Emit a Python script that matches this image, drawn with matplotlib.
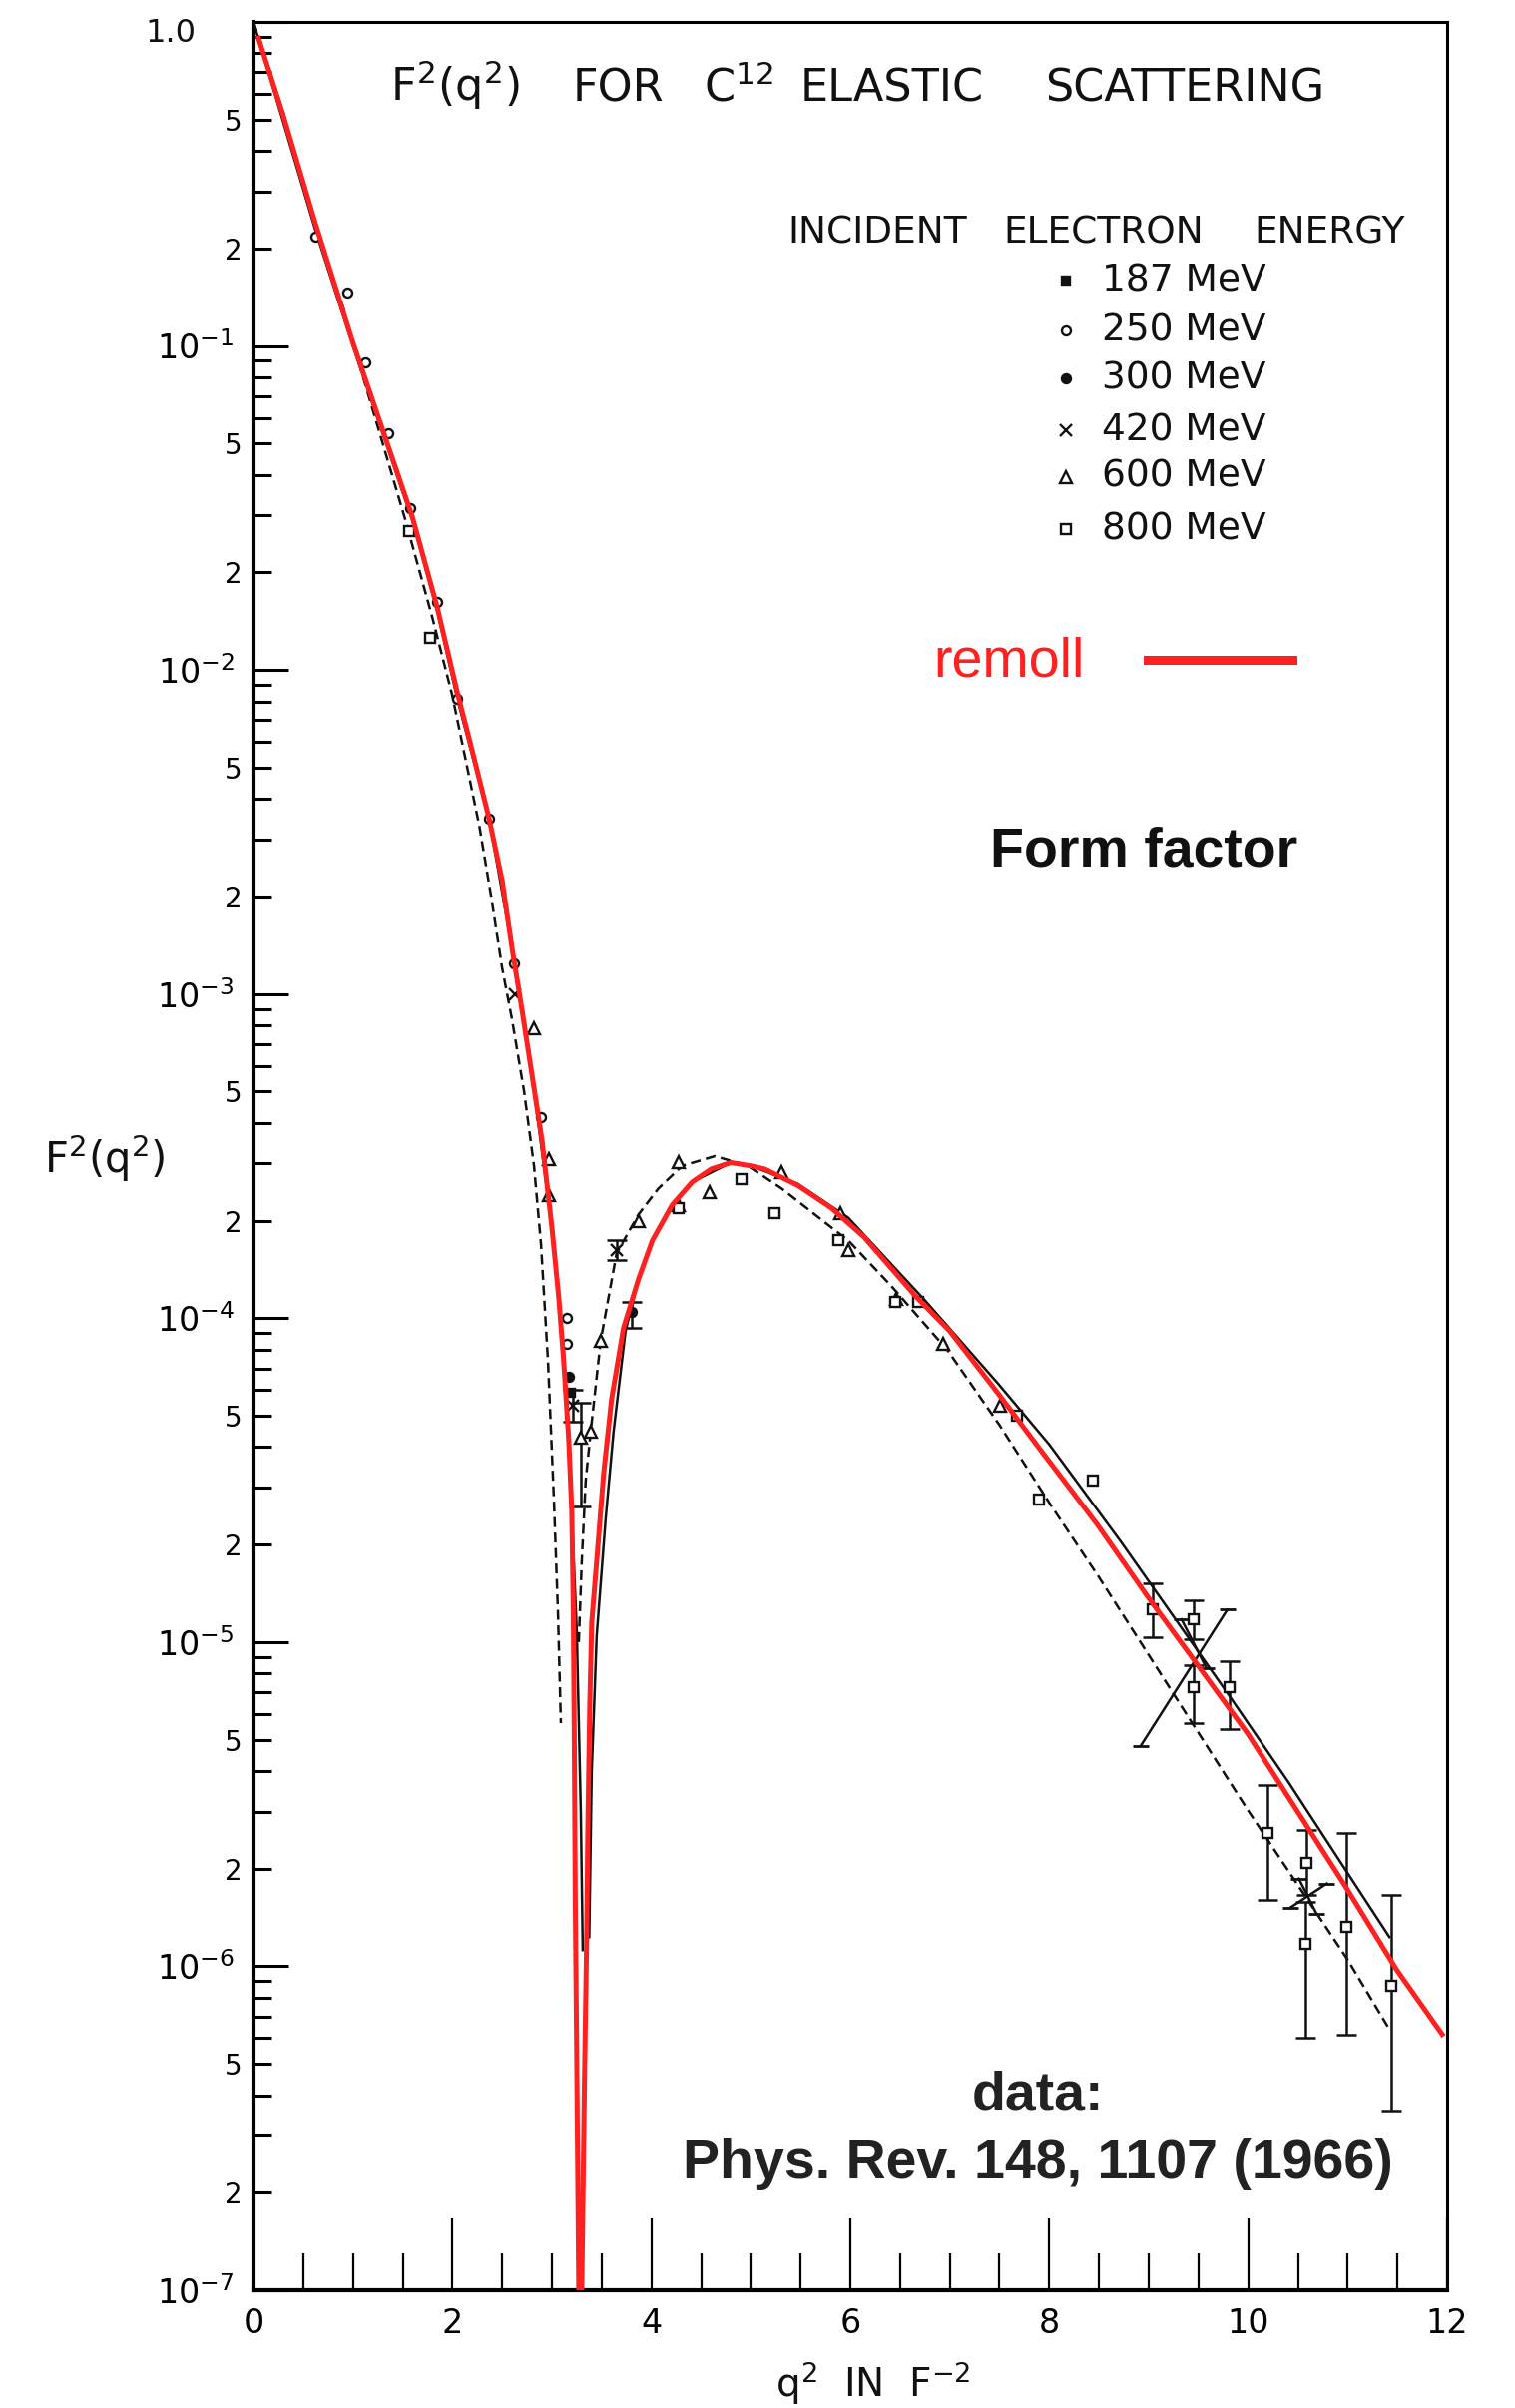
import numpy as np
import matplotlib
matplotlib.use("Agg")
import matplotlib.pyplot as plt
from matplotlib.lines import Line2D
from matplotlib.ticker import FixedLocator, FixedFormatter

# ---------------------------------------------------------------------------
# C12 elastic form factor, values given as log10(F^2) versus q^2 (fm^-2)
# ---------------------------------------------------------------------------

# remoll calculation (red)
remoll_q2 = [0.05, 0.30, 0.62, 1.00, 1.30, 1.60, 1.85, 2.05, 2.20, 2.37, 2.50,
             2.60, 2.70, 2.80, 2.90, 3.00, 3.07, 3.12, 3.17, 3.20, 3.215, 3.225,
             3.235, 3.25, 3.27, 3.285, 3.30, 3.33, 3.35, 3.36, 3.38, 3.40, 3.45,
             3.52, 3.60, 3.72, 3.87, 4.01, 4.21, 4.41, 4.60, 4.80, 5.00, 5.14,
             5.47, 5.81, 6.14, 6.48, 6.65, 7.00, 7.48, 7.92, 8.49, 8.99, 9.49,
             9.99, 10.49, 10.99, 11.49, 11.95]
remoll_lg = [-0.05, -0.29, -0.62, -0.99, -1.26, -1.53, -1.81, -2.07, -2.25, -2.46,
             -2.65, -2.86, -3.05, -3.25, -3.45, -3.72, -3.94, -4.14, -4.38, -4.60,
             -4.90, -5.30, -5.80, -6.30, -7.00, -9.00, -7.00, -6.30, -5.90, -5.60,
             -5.20, -4.94, -4.75, -4.48, -4.25, -4.03, -3.88, -3.76, -3.65, -3.58,
             -3.54, -3.52, -3.53, -3.54, -3.59, -3.66, -3.75, -3.87, -3.93, -4.04,
             -4.23, -4.41, -4.64, -4.86, -5.07, -5.28, -5.52, -5.76, -6.01, -6.21]

# solid theory curve (NaN separates the two branches around the minimum)
theory_q2 = [0.00, 0.62, 1.00, 1.30, 1.60, 1.85, 2.05, 2.37, 2.60, 2.80, 3.00,
             3.12, 3.18, 3.22, 3.25, 3.29, 3.31, np.nan, 3.375, 3.40, 3.45, 3.54,
             3.62, 3.74, 3.87, 4.01, 4.21, 4.41, 4.80, 5.00, 5.47, 5.98, 6.75,
             7.48, 8.00, 8.72, 9.82, 10.40, 10.93, 11.42]
theory_lg = [0.00, -0.64, -1.00, -1.27, -1.54, -1.82, -2.09, -2.46, -2.86, -3.25,
             -3.72, -4.10, -4.45, -4.75, -4.97, -5.52, -5.95, np.nan, -5.91, -5.40,
             -4.98, -4.62, -4.35, -4.04, -3.88, -3.76, -3.65, -3.58, -3.52, -3.53,
             -3.585, -3.69, -3.945, -4.20, -4.39, -4.69, -5.17, -5.43, -5.68, -5.91]

# dashed theory curve
dashed_q2 = [0.00, 0.30, 0.62, 0.90, 1.00, 1.53, 1.80, 2.00, 2.27, 2.39, 2.50,
             2.60, 2.72, 2.82, 2.89, 2.96, 3.02, 3.06, 3.09, np.nan, 3.27, 3.30,
             3.34, 3.39, 3.49, 3.65, 3.87, 4.07, 4.31, 4.64, 4.97, 5.31, 5.81,
             5.98, 6.41, 6.98, 7.50, 8.00, 8.50, 9.00, 9.50, 10.00, 10.50, 11.00,
             11.43]
dashed_lg = [0.00, -0.28, -0.63, -0.88, -0.99, -1.54, -1.84, -2.08, -2.48, -2.70,
             -2.92, -3.08, -3.30, -3.53, -3.77, -4.13, -4.56, -4.90, -5.25, np.nan,
             -5.00, -4.75, -4.50, -4.35, -4.07, -3.80, -3.68, -3.60, -3.53, -3.50,
             -3.53, -3.60, -3.72, -3.76, -3.90, -4.10, -4.33, -4.57, -4.80, -5.04,
             -5.28, -5.52, -5.75, -5.98, -6.20]

# measured points per incident energy: q2, log10 F^2, error-bar low / high
e187_q2 = [3.19]
e187_lg = [-4.23]
e187_lo = [-4.23]
e187_hi = [-4.23]

e250_q2 = [0.62, 0.94, 1.12, 1.35, 1.58, 1.85, 2.05, 2.37, 2.62, 2.89, 3.15, 3.15]
e250_lg = [-0.663, -0.836, -1.05, -1.27, -1.50, -1.79, -2.09, -2.46, -2.905, -3.38,
           -4.00, -4.08]
e250_lo = list(e250_lg)
e250_hi = list(e250_lg)

e300_q2 = [3.17, 3.80]
e300_lg = [-4.18, -3.98]
e300_lo = [-4.18, -4.03]
e300_hi = [-4.18, -3.95]

e420_q2 = [2.63, 3.21, 3.65]
e420_lg = [-3.00, -4.27, -3.79]
e420_lo = [-3.00, -4.32, -3.82]
e420_hi = [-3.00, -4.22, -3.76]
# large-q2 420 MeV points, drawn as long crossed arms (start/end of each arm)
e420_arm_q2 = [(8.92, 9.79), (9.33, 9.58), (10.42, 10.79), (10.51, 10.69)]
e420_arm_lg = [(-5.32, -4.90), (-4.93, -5.08), (-5.82, -5.745), (-5.73, -5.84)]

e600_q2 = [2.82, 2.97, 2.97, 3.29, 3.39, 3.49, 3.87, 4.27, 4.27, 4.59, 5.31, 5.90,
           5.98, 6.46, 6.93, 7.51]
e600_lg = [-3.105, -3.51, -3.62, -4.37, -4.35, -4.07, -3.70, -3.52, -3.65, -3.61,
           -3.55, -3.675, -3.79, -3.94, -4.08, -4.27]
e600_lo = [-3.105, -3.51, -3.62, -4.58, -4.35, -4.07, -3.70, -3.52, -3.65, -3.61,
           -3.55, -3.675, -3.79, -3.94, -4.08, -4.27]
e600_hi = [-3.105, -3.51, -3.62, -4.26, -4.35, -4.07, -3.70, -3.52, -3.65, -3.61,
           -3.55, -3.675, -3.79, -3.94, -4.08, -4.27]

e800_q2 = [1.57, 1.78, 4.27, 4.91, 5.24, 5.88, 6.45, 6.68, 7.68, 7.90, 8.44, 9.04,
           9.45, 9.45, 9.81, 10.19, 10.59, 10.58, 10.99, 11.44]
e800_lg = [-1.57, -1.90, -3.66, -3.57, -3.675, -3.76, -3.95, -3.95, -4.30, -4.56,
           -4.50, -4.90, -4.93, -5.14, -5.14, -5.59, -5.68, -5.93, -5.88, -6.06]
e800_lo = [-1.57, -1.90, -3.66, -3.57, -3.675, -3.76, -3.95, -3.95, -4.30, -4.56,
           -4.50, -4.985, -4.99, -5.25, -5.27, -5.795, -5.78, -6.22, -6.21, -6.45]
e800_hi = [-1.57, -1.90, -3.66, -3.57, -3.675, -3.76, -3.95, -3.95, -4.30, -4.56,
           -4.50, -4.82, -4.87, -5.07, -5.06, -5.44, -5.58, -5.80, -5.59, -5.78]

legend_labels = ["187 MeV", "250 MeV", "300 MeV", "420 MeV", "600 MeV", "800 MeV"]

x_major = [0, 2, 4, 6, 8, 10, 12]
x_major_labels = ["0", "2", "4", "6", "8", "10", "12"]
y_decades = [-7, -6, -5, -4, -3, -2, -1, 0]

# ---------------------------------------------------------------------------
W, H = 1518, 2412
plt.rcParams["font.family"] = ["DejaVu Sans"]
plt.rcParams["mathtext.fontset"] = "dejavusans"

INK = "#111111"
RED = "#ff2020"

fig = plt.figure(figsize=(W / 100, H / 100), dpi=100)
AL, AR, AT, AB = 254, 1450, 22, 2294
ax = fig.add_axes([AL / W, 1 - AB / H, (AR - AL) / W, (AB - AT) / H])
ax.set_yscale("log")
ax.set_xlim(0, 12)
ax.set_ylim(1e-7, 1.0)


def fx(px):
    return px / W


def fy(py):
    return 1 - py / H


def pw(v):
    return 10.0 ** np.asarray(v, dtype=float)


# curves
ax.plot(theory_q2, pw(theory_lg), color=INK, lw=1.8, zorder=3)
ax.plot(dashed_q2, pw(dashed_lg), color=INK, lw=1.8, dashes=(4, 2.2), zorder=3)
ax.plot(remoll_q2, pw(remoll_lg), color=RED, lw=3.6, zorder=5)


def draw_series(q2, lg, lo, hi, **kw):
    q2 = np.asarray(q2, float)
    y, ylo, yhi = pw(lg), pw(lo), pw(hi)
    bar = np.asarray(lo) != np.asarray(hi)
    if bar.any():
        ax.errorbar(q2[bar], y[bar], yerr=[y[bar] - ylo[bar], yhi[bar] - y[bar]],
                    fmt="none", ecolor=INK, elinewidth=1.8, capsize=7,
                    capthick=1.8, zorder=3.2)
    ax.plot(q2, y, ls="none", zorder=4, **kw)


mk = dict(color=INK, mec=INK, mew=1.7)
sty187 = dict(marker="s", ms=6, mfc=INK, **mk)
sty250 = dict(marker="o", ms=6.5, mfc="white", **mk)
sty300 = dict(marker="o", ms=6.5, mfc=INK, **mk)
sty420 = dict(marker="x", ms=8, mfc=INK, **mk)
sty600 = dict(marker="^", ms=8, mfc="white", **mk)
sty800 = dict(marker="s", ms=7, mfc="white", **mk)

draw_series(e187_q2, e187_lg, e187_lo, e187_hi, **sty187)
draw_series(e250_q2, e250_lg, e250_lo, e250_hi, **sty250)
draw_series(e300_q2, e300_lg, e300_lo, e300_hi, **sty300)
draw_series(e420_q2, e420_lg, e420_lo, e420_hi, **sty420)
draw_series(e600_q2, e600_lg, e600_lo, e600_hi, **sty600)
draw_series(e800_q2, e800_lg, e800_lo, e800_hi, **sty800)

for (qa, qb), (la, lb) in zip(e420_arm_q2, e420_arm_lg):
    ax.plot([qa, qb], pw([la, lb]), color=INK, lw=1.8, zorder=3.2)
    ax.plot([qa, qb], pw([la, lb]), ls="none", marker="_", ms=12, mew=2,
            color=INK, zorder=3.2)

# axes frame and ticks
for side in ("left", "bottom"):
    ax.spines[side].set_linewidth(3.0)
for side in ("top", "right"):
    ax.spines[side].set_linewidth(2.2)

ax.yaxis.set_major_locator(FixedLocator([10.0 ** k for k in y_decades]))
ax.yaxis.set_major_formatter(FixedFormatter(
    [r"$10^{%d}$" % k if k < 0 else "" for k in y_decades]))
minor_vals, minor_labs = [], []
for k in y_decades[:-1]:
    for m in range(2, 10):
        minor_vals.append(m * 10.0 ** k)
        minor_labs.append(str(m) if m in (2, 5) else "")
ax.yaxis.set_minor_locator(FixedLocator(minor_vals))
ax.yaxis.set_minor_formatter(FixedFormatter(minor_labs))

ax.set_xticks(x_major)
ax.set_xticklabels(x_major_labels)
ax.set_xticks([v for v in np.arange(0.5, 12, 0.5) if v % 2 != 0], minor=True)

ax.tick_params(axis="y", which="major", direction="in", length=25, width=2.2,
               pad=14, labelsize=24, right=False)
ax.tick_params(axis="y", which="minor", direction="in", length=13, width=2.2,
               pad=8, labelsize=20, right=False)
ax.tick_params(axis="x", which="major", direction="in", length=52, width=1.6,
               pad=12, labelsize=24, top=False)
ax.tick_params(axis="x", which="minor", direction="in", length=27, width=1.6,
               top=False)

fig.text(fx(196), fy(34), "1.0", ha="right", va="center", size=23, color=INK)

# axis titles
fig.text(fx(44), fy(1160), r"F$^2$(q$^2$)", ha="left", va="center", size=30,
         color=INK)
fig.text(fx(777), fy(2401), r"q$^2$  IN  F$^{-2}$", ha="left", va="baseline",
         size=28, color=INK)

# heading, word by word
for word, px in [(r"F$^2$(q$^2$)", 391), ("FOR", 574), (r"C$^{12}$", 705),
                 ("ELASTIC", 802), ("SCATTERING", 1047)]:
    fig.text(fx(px), fy(101), word, ha="left", va="baseline", size=32, color=INK)

# energy key
for word, px in [("INCIDENT", 789), ("ELECTRON", 1005), ("ENERGY", 1256)]:
    fig.text(fx(px), fy(244), word, ha="left", va="baseline", size=27, color=INK)

key_rows = [281, 331, 379, 431, 478, 530]
key_styles = [sty187, sty250, sty300, sty420, sty600, sty800]
for lab, py, st in zip(legend_labels, key_rows, key_styles):
    fig.add_artist(Line2D([fx(1068)], [fy(py)], transform=fig.transFigure,
                          ls="none", **st))
    fig.text(fx(1104), fy(py), lab, ha="left", va="center", size=27, color=INK)

# remoll key and annotations
fig.text(fx(935), fy(677), "remoll", ha="left", va="baseline", size=40,
         color=RED, family="Liberation Sans")
fig.add_artist(Line2D([fx(1150), fx(1295)], [fy(661), fy(661)],
                      transform=fig.transFigure, color=RED, lw=6.5))
fig.text(fx(992), fy(868), "Form factor", ha="left", va="baseline", size=40,
         weight="bold", color=INK, family="Liberation Sans")
fig.text(fx(1040), fy(2113), "data:", ha="center", va="baseline", size=40,
         weight="bold", color="#222222", family="Liberation Sans")
fig.text(fx(1040), fy(2182), "Phys. Rev. 148, 1107 (1966)", ha="center",
         va="baseline", size=40, weight="bold", color="#222222",
         family="Liberation Sans")

fig.savefig("out.png", dpi=100, facecolor="white")
